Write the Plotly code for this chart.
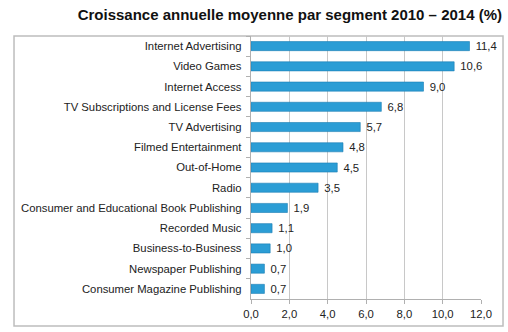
import plotly.graph_objects as go

categories = [
    "Internet Advertising", "Video Games", "Internet Access",
    "TV Subscriptions and License Fees", "TV Advertising",
    "Filmed Entertainment", "Out-of-Home", "Radio",
    "Consumer and Educational Book Publishing", "Recorded Music",
    "Business-to-Business", "Newspaper Publishing",
    "Consumer Magazine Publishing",
]
values = [11.4, 10.6, 9.0, 6.8, 5.7, 4.8, 4.5, 3.5, 1.9, 1.1, 1.0, 0.7, 0.7]
tick_vals = [0, 2, 4, 6, 8, 10, 12]
tick_text = ["0,0", "2,0", "4,0", "6,0", "8,0", "10,0", "12,0"]
title = "Croissance annuelle moyenne par segment 2010 – 2014 (%)"

labels = [" " + f"{v:.1f}".replace(".", ",") for v in values]
FONT = "Liberation Sans, Arial, sans-serif"

fig = go.Figure(go.Bar(
    x=values, y=categories, orientation="h",
    width=0.45,
    marker=dict(color="#2b9dd5", line=dict(color="#1b7db3", width=0.6)),
    text=labels, textposition="outside", cliponaxis=False,
    constraintext="none", textangle=0,
    textfont=dict(size=11.3, color="#222222", family=FONT),
))

fig.update_layout(
    width=508, height=332,
    margin=dict(l=251, r=27, t=36, b=33),
    paper_bgcolor="white", plot_bgcolor="white",
    showlegend=False,
    font=dict(family=FONT, size=11.3, color="#222222"),
    title=dict(text="<b>" + title + "</b>", x=502 / 508, xanchor="right",
               xref="container", y=0.955, yanchor="middle",
               font=dict(size=15, color="#111111", family=FONT)),
    xaxis=dict(range=[0, 12], tickvals=tick_vals, ticktext=tick_text,
               showgrid=True, gridcolor="#c8c8c8", gridwidth=1,
               showline=True, linecolor="#b0b0b0", ticks="outside",
               ticklen=4, tickcolor="#b0b0b0", zeroline=False,
               fixedrange=True, tickfont=dict(size=11.3)),
    yaxis=dict(autorange="reversed", showline=True, linecolor="#b0b0b0",
               ticks="outside", tickson="boundaries", ticklen=4,
               tickcolor="#b0b0b0", showgrid=False, ticksuffix="  ",
               tickfont=dict(size=11.3)),
    shapes=[dict(type="rect", xref="paper", yref="paper",
                 x0=-1.0304, x1=1.0957, y0=-0.1027, y1=1.0,
                 line=dict(color="#bdbdbd", width=1.5), layer="below")],
)

fig.write_html("out.html")
